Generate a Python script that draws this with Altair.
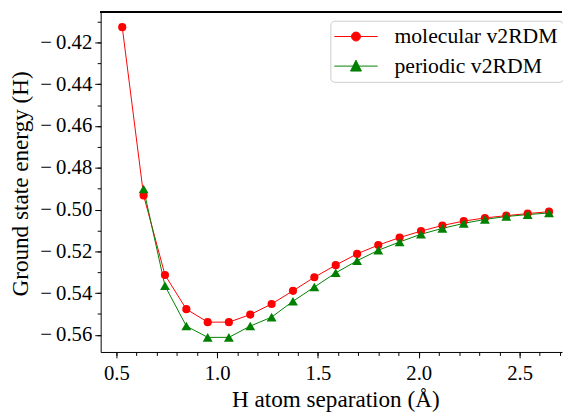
import altair as alt
import pandas as pd

# H atom separation (Angstrom)
x_mol = [0.529, 0.635, 0.741, 0.847, 0.953, 1.058, 1.164, 1.270, 1.376, 1.482, 1.588,
         1.694, 1.799, 1.905, 2.011, 2.117, 2.223, 2.328, 2.434, 2.540, 2.646]
e_mol = [-0.4126, -0.4932, -0.5313, -0.5477, -0.5539, -0.5539, -0.5503, -0.5452, -0.5389,
         -0.5324, -0.5266, -0.5212, -0.5170, -0.5134, -0.5103, -0.5076, -0.5055, -0.5040,
         -0.5029, -0.5019, -0.5010]
x_per = [0.635, 0.741, 0.847, 0.953, 1.058, 1.164, 1.270, 1.376, 1.482, 1.588,
         1.694, 1.799, 1.905, 2.011, 2.117, 2.223, 2.328, 2.434, 2.540, 2.646]
e_per = [-0.4901, -0.5365, -0.5558, -0.5612, -0.5612, -0.5558, -0.5515, -0.5439, -0.5371,
         -0.5303, -0.5245, -0.5195, -0.5155, -0.5118, -0.5090, -0.5066, -0.5047, -0.5033,
         -0.5024, -0.5016]

series_names = ["molecular v2RDM", "periodic v2RDM"]
series_colors = ["#ff0000", "#008000"]
x_major = [0.5, 1.0, 1.5, 2.0, 2.5]
x_minor = [round(0.5 + 0.1 * i, 1) for i in range(23)]
y_major = [-0.56, -0.54, -0.52, -0.50, -0.48, -0.46, -0.44, -0.42]
y_minor = [round(-0.56 + 0.01 * i, 2) for i in range(16)]

df = pd.concat([
    pd.DataFrame({"x": x_mol, "e": e_mol, "series": series_names[0]}),
    pd.DataFrame({"x": x_per, "e": e_per, "series": series_names[1]}),
])

FONT = "Liberation Serif"
TICK_FS = 21
LEGEND_FS = 22
TITLE_FS = 23.5
W, H = 468, 345
xs = alt.Scale(domain=[0.422, 2.7105], nice=False, zero=False)
ys = alt.Scale(domain=[-0.5682, -0.4053], nice=False, zero=False)

circle_path = "M-3.11,0H3.11M0.64,0A0.64,0.64,0,1,1,-0.64,0A0.64,0.64,0,1,1,0.64,0Z"
tri_path = "M-3.11,0H3.11M0,-0.85L0.78,0.71L-0.78,0.71Z"

legend = alt.Legend(
    title=None, orient="none", legendX=233, legendY=9,
    fillColor="white", strokeColor="#cccccc", cornerRadius=4, padding=5,
    labelFont=FONT, labelFontSize=LEGEND_FS, labelColor="black", labelLimit=400,
    symbolSize=200, symbolStrokeWidth=1, symbolOffset=10, labelOffset=28,
    symbolOpacity=1, rowPadding=8,
)
color = alt.Color("series:N", scale=alt.Scale(domain=series_names, range=series_colors), legend=None)

lines = alt.Chart(df).mark_line(strokeWidth=1, clip=True).encode(
    x=alt.X("x:Q", scale=xs, axis=alt.Axis(
        orient="bottom", values=x_major, format=".1f", tickSize=6, labelPadding=5,
        labelFont=FONT, labelFontSize=TICK_FS,
        title="H atom separation (Å)", titleX=238, titleY=55, titleAlign="center",
        titleBaseline="alphabetic", titleFont=FONT, titleFontSize=TITLE_FS)),
    y=alt.Y("e:Q", scale=ys, axis=alt.Axis(
        orient="left", values=y_major, tickSize=6, labelPadding=3,
        labelFont=FONT, labelFontSize=TICK_FS,
        labelExpr="'\u2212\u2009' + format(abs(datum.value), '.2f')",
        title="Ground state energy (H)", titleX=-81, titleY=174, titleAngle=-90,
        titleAlign="center", titleBaseline="middle", titleFont=FONT, titleFontSize=TITLE_FS)),
    color=color,
)

points = alt.Chart(df).mark_point(filled=True, opacity=1, clip=True).encode(
    x=alt.X("x:Q", scale=xs, axis=alt.Axis(
        orient="bottom", values=x_minor, labels=False, tickSize=3.5, domain=False, title=None)),
    y=alt.Y("e:Q", scale=ys, axis=alt.Axis(
        orient="left", values=y_minor, labels=False, tickSize=3.5, domain=False, title=None)),
    color=color,
    shape=alt.Shape("series:N", scale=alt.Scale(domain=series_names, range=["circle", "triangle-up"]), legend=None),
    size=alt.Size("series:N", scale=alt.Scale(domain=series_names, range=[68, 100]), legend=None),
)

# legend-only layer (no marks drawn: data filtered out, legend comes from explicit domains)
legend_layer = alt.Chart(df).transform_filter("datum.x < 0").mark_point(filled=True).encode(
    x=alt.X("x:Q", scale=xs, axis=None),
    y=alt.Y("e:Q", scale=ys, axis=None),
    fill=alt.Fill("series:N", scale=alt.Scale(domain=series_names, range=series_colors), legend=legend),
    stroke=alt.Stroke("series:N", scale=alt.Scale(domain=series_names, range=series_colors), legend=legend),
    shape=alt.Shape("series:N", scale=alt.Scale(domain=series_names, range=[circle_path, tri_path]), legend=legend),
)

top_spine = alt.Chart(df).mark_rule(color="black", strokeWidth=1).encode(
    x=alt.value(0), x2=alt.value(W), y=alt.value(0)
)

chart = alt.layer(lines, points, legend_layer, top_spine).resolve_axis(
    x="independent", y="independent"
).resolve_scale(shape="independent", fill="independent", stroke="independent").properties(
    width=W, height=H, autosize=alt.AutoSizeParams(type="none"),
    padding={"left": 94, "top": 1, "right": 1, "bottom": 62},
).configure(
    font=FONT, background="white"
).configure_view(stroke=None).configure_axis(
    grid=False, domainColor="black", domainWidth=1, tickColor="black", tickWidth=1,
    labelFont=FONT, labelFontSize=TICK_FS, labelColor="black",
    titleFont=FONT, titleFontSize=TITLE_FS, titleFontWeight="normal", titleColor="black",
).configure_legend(labelFont=FONT, labelFontSize=LEGEND_FS, labelColor="black", labelLimit=400)

chart.save("out.html", embed_options={"renderer": "svg", "actions": False})
